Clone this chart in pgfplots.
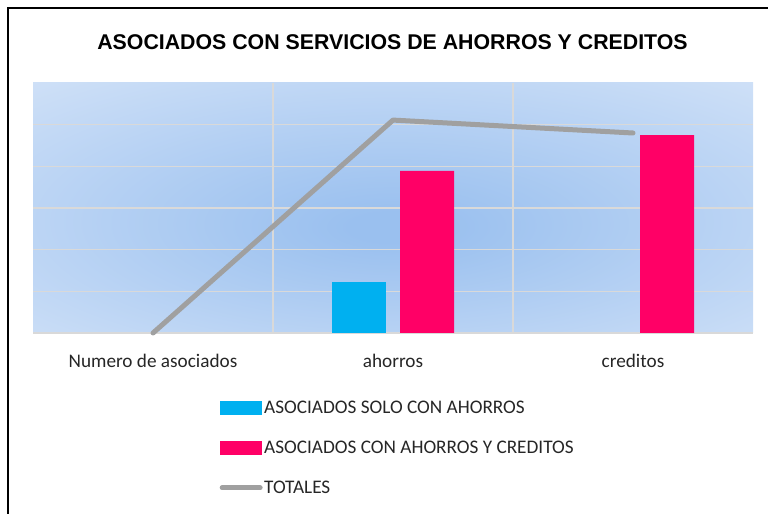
\documentclass[border=0pt]{standalone}
\usepackage{fontspec}
\setmainfont{Carlito}
\newfontfamily\titlefont{Liberation Sans}
\usepackage{pgfplots}
\pgfplotsset{compat=1.18}

\definecolor{cyanbar}{HTML}{00B0F0}
\definecolor{pinkbar}{HTML}{FF0066}
\definecolor{totline}{HTML}{A0A0A0}
\definecolor{gridgray}{HTML}{D9D9D9}
\definecolor{bgin}{HTML}{9AC0EF}
\definecolor{bgout}{HTML}{E2ECFA}
\definecolor{labeltext}{HTML}{262626}

\pgfdeclareradialshading{bgshade}{\pgfpoint{0bp}{-4bp}}{%
  color(0bp)=(bgin); color(3bp)=(bgin); color(50bp)=(bgout); color(75bp)=(bgout)}

\begin{document}
\begin{tikzpicture}
  \useasboundingbox (0bp,0bp) rectangle (768bp,514bp);
  % chart frame (cut off at right and bottom)
  \draw[line width=1.6bp] (8bp,-2bp) -- (8bp,506bp) -- (770bp,506bp);

  \node[font=\titlefont\bfseries\fontsize{21.4}{25}\selectfont] at (392.5bp,472bp)
    {ASOCIADOS CON SERVICIOS DE AHORROS Y CREDITOS};

  \begin{axis}[
      at={(33bp,181bp)}, anchor=south west,
      scale only axis,
      width=720bp, height=250bp,
      xmin=-0.5, xmax=2.5,
      ymin=0, ymax=6,
      axis background/.style={shade, shading=bgshade},
      axis line style={draw=none},
      xtick={0,1,2},
      xticklabels={Numero de asociados, ahorros, creditos},
      minor xtick={0.5,1.5},
      xminorgrids,
      ytick={0,1,2,3,4,5},
      yticklabels={},
      ymajorgrids,
      major tick length=0pt, minor tick length=0pt,
      grid style={draw=gridgray, line width=1.6bp},
      minor grid style={draw=gridgray, line width=1.6bp},
      xticklabel style={font=\fontsize{19.3}{22}\selectfont, text=labeltext, yshift=-18bp},
      clip=false,
      legend style={
        at={(0.259,-0.265)}, anchor=north west,
        draw=none, fill=none,
        font=\fontsize{19.3}{22}\selectfont,
        text=labeltext,
        row sep=23bp,
        inner sep=0pt,
        nodes={inner sep=1.5bp},
      },
      legend cell align={left},
    ]
    \addplot[ybar, bar width=0.225, bar shift=-0.1417, fill=cyanbar, draw=none,
      legend image code/.code={\fill[cyanbar] (0bp,-7bp) rectangle (42bp,7bp);}]
      coordinates {(1,1.22)};
    \addplot[ybar, bar width=0.225, bar shift=0.1417, fill=pinkbar, draw=none,
      legend image code/.code={\fill[pinkbar] (0bp,-7bp) rectangle (42bp,7bp);}]
      coordinates {(1,3.89) (2,4.75)};
    \addplot[totline, line width=5bp, line cap=round, line join=round, mark=none,
      legend image code/.code={\draw[totline, line width=5bp, line cap=round] (2bp,0) -- (40bp,0);}]
      coordinates {(0,0) (1,5.11) (2,4.80)};
    \legend{ASOCIADOS SOLO CON AHORROS, ASOCIADOS CON AHORROS Y CREDITOS, TOTALES}
  \end{axis}
\end{tikzpicture}
\end{document}
